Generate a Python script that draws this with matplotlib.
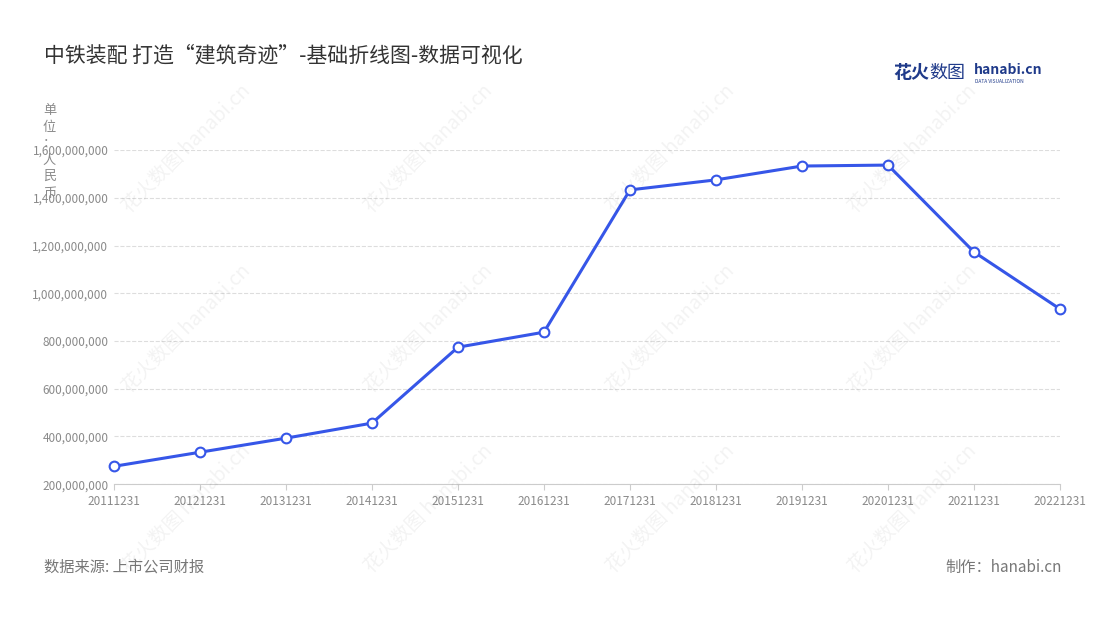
import matplotlib
matplotlib.use("Agg")
import matplotlib.pyplot as plt
from matplotlib.ticker import FuncFormatter

plt.rcParams['font.family'] = ['Noto Sans CJK SC', 'DejaVu Sans']

dates = ["20111231","20121231","20131231","20141231","20151231","20161231",
         "20171231","20181231","20191231","20201231","20211231","20221231"]
values = [275e6, 334e6, 393e6, 456e6, 774e6, 837e6,
          1433e6, 1475e6, 1533e6, 1537e6, 1173e6, 934e6]
yticks = [200e6, 400e6, 600e6, 800e6, 1000e6, 1200e6, 1400e6, 1600e6]

fig = plt.figure(figsize=(11, 6.2), dpi=100)
ax = fig.add_axes([0.1036, 0.219, 0.86, 0.539])
x = list(range(len(dates)))
ax.plot(x, values, color='#3656e8', lw=2.2, marker='o', ms=7,
        markerfacecolor='white', markeredgecolor='#3656e8', markeredgewidth=1.5, zorder=3, clip_on=False)
ax.set_xlim(0, len(dates)-1)
ax.set_ylim(200e6, 1600e6)
ax.set_xticks(x)
ax.set_xticklabels(dates)
ax.set_yticks(yticks)
ax.yaxis.set_major_formatter(FuncFormatter(lambda v, p: f"{int(v):,}"))
ax.tick_params(axis='both', labelsize=8.5, colors='#8a8a8a', length=0, pad=4)
ax.tick_params(axis='x', length=4, color='#cccccc')
ax.grid(axis='y', color='#dddddd', ls='--', lw=0.8)
for s in ['top', 'right', 'left']:
    ax.spines[s].set_visible(False)
ax.spines['bottom'].set_color('#cccccc')

fig.text(0.04, 0.91, '中铁装配 打造“建筑奇迹”-基础折线图-数据可视化', fontsize=15, color='#333333', va='center')
fig.text(0.045, 0.755, '单\n位\n：\n人\n民\n币', fontsize=9.5, color='#8a8a8a', va='center', ha='center', linespacing=1.35)
fig.text(0.04, 0.085, '数据来源: 上市公司财报', fontsize=11, color='#777777', va='center')
fig.text(0.965, 0.085, '制作：hanabi.cn', fontsize=11, color='#777777', va='center', ha='right')
fig.text(0.812, 0.883, '花火', fontsize=13, color='#1f3a8a', weight='bold', va='center')
fig.text(0.845, 0.883, '数图', fontsize=13, color='#1f3a8a', va='center')
fig.text(0.885, 0.887, 'hanabi.cn', fontsize=10, color='#1f3a8a', weight='bold', va='center')
fig.text(0.886, 0.869, 'DATA VISUALIZATION', fontsize=3.5, color='#1f3a8a', va='center')

for wx in [0.17, 0.39, 0.61, 0.83]:
    for wy in [0.76, 0.47, 0.18]:
        fig.text(wx, wy, '花火数图 hanabi.cn', fontsize=14, color='#000000', alpha=0.05,
                 rotation=45, ha='center', va='center')

fig.savefig('out.png', dpi=100)
